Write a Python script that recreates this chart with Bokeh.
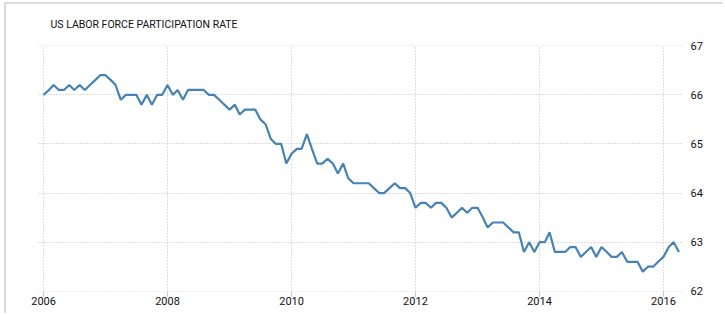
import pandas as pd
from bokeh.plotting import figure
from bokeh.models import ColumnDataSource, FixedTicker, DatetimeTickFormatter, Range1d
from bokeh.embed import file_html
from bokeh.resources import INLINE

title_text = "US LABOR FORCE PARTICIPATION RATE"
start_month = "2006-01-01"

v2006 = [66.0, 66.1, 66.2, 66.1, 66.1, 66.2, 66.1, 66.2, 66.1, 66.2, 66.3, 66.4]
v2007 = [66.4, 66.3, 66.2, 65.9, 66.0, 66.0, 66.0, 65.8, 66.0, 65.8, 66.0, 66.0]
v2008 = [66.2, 66.0, 66.1, 65.9, 66.1, 66.1, 66.1, 66.1, 66.0, 66.0, 65.9, 65.8]
v2009 = [65.7, 65.8, 65.6, 65.7, 65.7, 65.7, 65.5, 65.4, 65.1, 65.0, 65.0, 64.6]
v2010 = [64.8, 64.9, 64.9, 65.2, 64.9, 64.6, 64.6, 64.7, 64.6, 64.4, 64.6, 64.3]
v2011 = [64.2, 64.2, 64.2, 64.2, 64.1, 64.0, 64.0, 64.1, 64.2, 64.1, 64.1, 64.0]
v2012 = [63.7, 63.8, 63.8, 63.7, 63.8, 63.8, 63.7, 63.5, 63.6, 63.7, 63.6, 63.7]
v2013 = [63.7, 63.5, 63.3, 63.4, 63.4, 63.4, 63.3, 63.2, 63.2, 62.8, 63.0, 62.8]
v2014 = [63.0, 63.0, 63.2, 62.8, 62.8, 62.8, 62.9, 62.9, 62.7, 62.8, 62.9, 62.7]
v2015 = [62.9, 62.8, 62.7, 62.7, 62.8, 62.6, 62.6, 62.6, 62.4, 62.5, 62.5, 62.6]
v2016 = [62.7, 62.9, 63.0, 62.8]

x_tick_years = ["2006", "2008", "2010", "2012", "2014", "2016"]
y_ticks = [62, 63, 64, 65, 66, 67]

values = v2006 + v2007 + v2008 + v2009 + v2010 + v2011 + v2012 + v2013 + v2014 + v2015 + v2016
dates = pd.date_range(start_month, periods=len(values), freq="MS")
src = ColumnDataSource(dict(date=dates, rate=values))

p = figure(
    width=719, height=311,
    x_axis_type="datetime", y_axis_location="right",
    output_backend="svg", toolbar_location=None,
    min_border_left=32, min_border_right=42, min_border_top=41, min_border_bottom=24,
    background_fill_color="white", border_fill_color="white",
)
p.styles = {"margin-left": "4px", "margin-top": "2px",
            "border-left": "2px solid #dcdcdc", "border-top": "2px solid #dcdcdc"}
p.outline_line_color = None

p.x_range = Range1d(pd.Timestamp("2005-12-02"), pd.Timestamp("2016-04-28"))
p.y_range = Range1d(61.995, 67.005)

p.line("date", "rate", source=src, line_color="#4682b4", line_width=2.2)

tick_ms = [pd.Timestamp(y + "-01-01").value // 10**6 for y in x_tick_years]
p.xaxis.ticker = FixedTicker(ticks=tick_ms)
p.xaxis.formatter = DatetimeTickFormatter(years="%Y", months="%Y", days="%Y")
p.yaxis.ticker = FixedTicker(ticks=y_ticks)

for ax in (p.xaxis, p.yaxis):
    ax.axis_line_color = None
    ax.minor_tick_line_color = None
    ax.major_label_text_font = "Roboto"
    ax.major_label_text_font_size = "11px"
    ax.major_label_text_color = "#111111"

p.xaxis.major_tick_line_color = "#cccccc"
p.xaxis.major_tick_in = 0
p.xaxis.major_tick_out = 5
p.xaxis.major_label_standoff = 0
p.yaxis.major_tick_line_color = None
p.yaxis.major_label_standoff = 1

for g in (p.xgrid, p.ygrid):
    g.grid_line_color = "#bdbdbd"
    g.grid_line_dash = "1 2"
    g.grid_line_width = 1

p.title.text = title_text
p.title.text_font = "Roboto"
p.title.text_font_size = "10.5px"
p.title.text_font_style = "normal"
p.title.text_color = "#111111"
p.title.offset = 12
p.title.standoff = 26
p.title.vertical_align = "top"

open("out.html", "w").write(file_html(p, INLINE))
